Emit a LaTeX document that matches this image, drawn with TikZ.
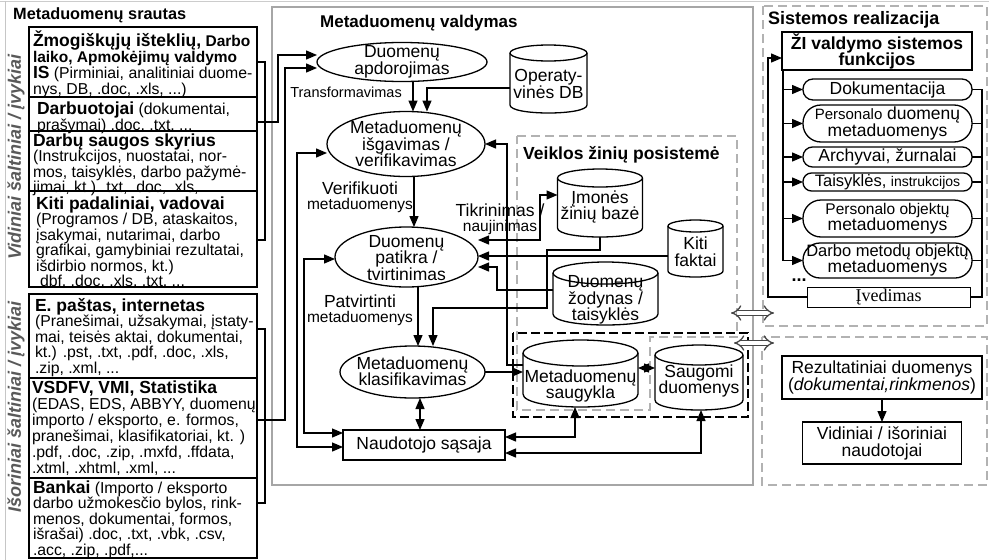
\documentclass[tikz,border=0pt]{standalone}
\usepackage{fontspec}
\setmainfont{Liberation Sans}
\newfontfamily\ivedfont{Liberation Serif}
\usetikzlibrary{arrows.meta,shapes.geometric,shapes.misc}
\newcommand{\hdb}{\fontsize{17.5}{17.5}\selectfont\bfseries}
\newcommand{\fsz}[1]{\fontsize{#1}{#1}\selectfont}
\newcommand{\firstl}{\rule{0pt}{18pt}}
\newcommand{\dbdraw}[5]{%
  \draw[cline,fill=white] ({#1-#3/2},{#2-#4/2+#5}) -- ({#1-#3/2},{#2+#4/2-#5})
    .. controls ({#1-#3/2},{#2+#4/2+#5/3}) and ({#1+#3/2},{#2+#4/2+#5/3}) .. ({#1+#3/2},{#2+#4/2-#5})
    -- ({#1+#3/2},{#2-#4/2+#5});
  \draw[cline,fill=white] (#1,{#2-#4/2+#5}) ellipse [x radius={#3/2}, y radius=#5];
}
\lineskiplimit=-100pt
\lineskip=0pt
\begin{document}
\lineskiplimit=-100pt
\lineskip=0pt
\begin{tikzpicture}[x=1pt,y=-1pt,
  cline/.style={line width=1.3pt},
  arr/.style={line width=1.3pt,-{Triangle[length=11pt,width=9pt]}},
  dbl/.style={line width=1.3pt,{Triangle[length=11pt,width=9pt]}-{Triangle[length=11pt,width=9pt]}},
  ell/.style={ellipse,draw,line width=1.3pt,fill=white,inner sep=0pt,outer sep=0pt},
  txt/.style={align=center,inner sep=0pt,font=\fontsize{17.5}{16.5}\selectfont},
  grp/.style={draw,line width=1.5pt,inner sep=0pt,outer sep=0pt},
  sec/.style={anchor=north west,align=left,inner sep=0pt,outer sep=0pt},
  dbn/.style={inner sep=0pt,outer sep=0pt},
  gdash/.style={draw=gray!60,line width=1.3pt,dash pattern=on 9pt off 5pt},
  rbox/.style={rectangle,draw,line width=1.3pt,fill=white,minimum width=169pt,inner sep=0pt,outer sep=0pt,align=center},
  sbox/.style={rectangle,draw,line width=1.3pt,fill=white,inner sep=0pt,outer sep=0pt,align=center},
  ttl/.style={anchor=base west,inner sep=0pt,font=\fontsize{17.5}{17.5}\selectfont\bfseries},
  hollow/.style={draw=gray!55!black,double=white,double distance=4pt,line width=1.3pt,{Implies[length=7pt,width=16pt]}-{Implies[length=7pt,width=16pt]}}
]
\useasboundingbox (0,0) rectangle (989,560);

% ---------- frames ----------
\draw[gray!40,line width=1pt] (0,1) -- (989,1);
\draw[gray!45,line width=1pt] (5,1) -- (5,562);
\draw[gray!70,line width=2.5pt] (272,7) rectangle (753,485);
\draw[gdash] (763,6) rectangle (987,326);
\draw[gdash] (762,337) rectangle (987,485);
\draw[gdash] (517,136) -- (737,136) -- (737,337) -- (650,337) -- (650,410) -- (517,410) -- cycle;
\draw[line width=1.5pt,dash pattern=on 9pt off 4pt] (513,333) rectangle (748,417);

% ---------- left panel ----------
\node[anchor=base west,inner sep=0pt,font=\fontsize{16.3}{16.3}\selectfont\bfseries] (ltitle) at (13,19) {Metaduomenų srautas};
\node[rotate=90,inner sep=0pt,text=black!65,font=\fontsize{18}{18}\selectfont\bfseries\itshape] (vidlab) at (16,157) {Vidiniai šaltiniai / įvykiai};
\node[rotate=90,inner sep=0pt,text=black!65,font=\fontsize{18}{18}\selectfont\bfseries\itshape] (isolab) at (16,407) {Išoriniai šaltiniai / įvykiai};

\node[grp,minimum width=228pt,minimum height=260pt] (vid) at (143,157) {};
\node[grp,minimum width=228pt,minimum height=264pt] (isor) at (143,426) {};
\coordinate (dv1) at (0,97); \coordinate (dv2) at (0,131); \coordinate (dv3) at (0,191);
\coordinate (dv4) at (0,378); \coordinate (dv5) at (0,478);
\foreach \d in {dv1,dv2,dv3} \draw[cline] (vid.west |- \d) -- (vid.east |- \d);
\foreach \d in {dv4,dv5} \draw[cline] (isor.west |- \d) -- (isor.east |- \d);

\node[sec,font=\fontsize{15.8}{16}\selectfont] (s1) at (33,28)
 {\firstl{\fontsize{17.5}{17.5}\selectfont\bfseries Žmogiškųjų išteklių,} {\fontsize{15.5}{15.5}\selectfont\bfseries Darbo}\\
  {\fontsize{15.5}{15.5}\selectfont\bfseries laiko, Apmokėjimų valdymo}\\
  {\hdb IS} (Pirminiai, analitiniai duome-\\
  nys, DB, .doc, .xls, ...)};
\node[sec,font=\fontsize{15.8}{16}\selectfont] (s2) at (37,96)
 {\firstl{\hdb Darbuotojai} (dokumentai,\\prašymai) .doc, .txt, ...};
\node[sec,font=\fontsize{15.8}{15.5}\selectfont] (s3) at (33,128)
 {\firstl{\hdb Darbų saugos skyrius}\\(Instrukcijos, nuostatai, nor-\\mos, taisyklės, darbo pažymė-\\jimai, kt.) .txt, .doc, .xls, ...};
\node[sec,font=\fontsize{15.8}{15.5}\selectfont] (s4) at (36,191)
 {\firstl{\hdb Kiti padaliniai, vadovai}\\(Programos / DB, ataskaitos,\\įsakymai, nutarimai, darbo\\grafikai, gamybiniai rezultatai,\\išdirbio normos, kt.)\\\hspace*{4pt}dbf, .doc, .xls, .txt, ...};
\node[sec,font=\fontsize{15.8}{15.5}\selectfont] (s5) at (35,293)
 {\firstl{\hdb E. paštas, internetas}\\(Pranešimai, užsakymai, įstaty-\\mai, teisės aktai, dokumentai,\\kt.) .pst, .txt, .pdf, .doc, .xls,\\.zip, .xml, ...};
\node[sec,font=\fontsize{15.8}{16}\selectfont] (s6) at (32,375)
 {\firstl{\hdb VSDFV, VMI, Statistika}\\(EDAS, EDS, ABBYY, duomenų\\importo / eksporto, e. formos,\\pranešimai, klasifikatoriai, kt. )\\.pdf, .doc, .zip, .mxfd, .ffdata,\\.xtml, .xhtml, .xml, ...};
\node[sec,font=\fontsize{15.8}{15.5}\selectfont] (s7) at (33,475)
 {\firstl{\hdb Bankai} (Importo / eksporto\\darbo užmokesčio bylos, rink-\\menos, dokumentai, formos,\\išrašai) .doc, .txt, .vbk, .csv,\\.acc, .zip, .pdf,...};

% ---------- central panel ----------
\node[anchor=base west,inner sep=0pt,font=\fontsize{17}{17}\selectfont\bfseries] (ctitle) at (320,27) {Metaduomenų valdymas};
\node[ttl] (vtitle) at (523,159) {Veiklos žinių posistemė};

\node[ell,minimum width=170pt,minimum height=39pt] (apdor) at (402,62) {};
\node[txt] (apdort) at (402,62) {Duomenų\\apdorojimas};
\node[ell,minimum width=158pt,minimum height=65pt] (isg) at (406,144) {};
\node[txt] (isgt) at (406,144) {Metaduomenų\\išgavimas /\\verifikavimas};
\node[ell,minimum width=143pt,minimum height=60pt] (patikra) at (406.5,257) {};
\node[txt] (patikrat) at (406.5,258) {Duomenų\\patikra /\\tvirtinimas};
\node[ell,minimum width=145pt,minimum height=52pt] (klas) at (412.5,372) {};
\node[txt] (klast) at (412.5,371) {Metaduomenų\\klasifikavimas};
\node[sbox,minimum width=162pt,minimum height=30pt,font=\fsz{17.5}] (naud) at (424,445) {Naudotojo sąsaja};

\dbdraw{548.5}{79}{77}{68}{8}
\node[dbn,minimum width=77pt,minimum height=68pt] (opdb) at (548.5,79) {};
\node[txt] (opdbt) at (548.5,84) {Operaty-\\vinės DB};
\dbdraw{600}{203}{85}{68}{9}
\node[dbn,minimum width=85pt,minimum height=68pt] (imone) at (600,203) {};
\node[txt] (imonet) at (600,207) {Įmonės\\žinių bazė};
\dbdraw{695.5}{248.5}{55}{57}{6}
\node[dbn,minimum width=55pt,minimum height=57pt] (kiti) at (695.5,248.5) {};
\node[txt] (kitit) at (695.5,251.5) {Kiti\\faktai};
\dbdraw{605.5}{293.5}{105}{63}{11}
\node[dbn,minimum width=105pt,minimum height=63pt] (zod) at (605.5,293.5) {};
\node[txt] (zodt) at (605.5,300) {Duomenų\\žodynas /\\taisyklės};
\dbdraw{580.5}{373.5}{115}{67}{13}
\node[dbn,minimum width=115pt,minimum height=67pt] (msaug) at (580.5,373.5) {};
\node[txt] (msaugt) at (580.5,386) {Metaduomenų\\saugykla};
\dbdraw{699}{377.5}{88}{65}{10}
\node[dbn,minimum width=88pt,minimum height=65pt] (saugomi) at (699,377.5) {};
\node[txt] (saugomit) at (699,381) {Saugomi\\duomenys};

% labels
\node[anchor=east,inner sep=0pt,font=\fsz{14.5}] (tflab) at (402,92) {Transformavimas};
\node[align=center,inner sep=0pt,font=\fontsize{17.5}{15}\selectfont] (verlab) at (360,197) {Verifikuoti\\{\fsz{15.5}metaduomenys}};
\node[align=center,inner sep=0pt,font=\fontsize{17.5}{15}\selectfont] (patlab) at (360,310) {Patvirtinti\\{\fsz{15.5}metaduomenys}};
\node[align=center,inner sep=0pt,font=\fontsize{17.5}{15}\selectfont] (tiklab) at (500,219) {Tikrinimas /\\{\fsz{15.5}naujinimas}};

% left brackets and inputs
\coordinate (bra) at (265,62); \coordinate (brb) at (265,240);
\coordinate (brm) at (278,122); \coordinate (brt) at (278,55);
\draw[cline] (vid.east |- bra) -- (bra) -- (brb) -- (vid.east |- brb);
\draw[arr] (vid.east |- brm) -- (brm) -- (brt) -- (brt -| apdor.west);
\coordinate (bxa) at (265,329); \coordinate (bxb) at (265,503);
\coordinate (bxm) at (285,420); \coordinate (bxt) at (285,68);
\draw[cline] (isor.east |- bxa) -- (bxa) -- (bxb) -- (isor.east |- bxb);
\draw[arr] (isor.east |- bxm) -- (bxm) -- (bxt) -- (bxt -| apdor.west);

% central connectors
\coordinate (tx) at (413,0);
\draw[arr] (apdor.south -| tx) -- (tx |- isg.north);
\coordinate (o1) at (427,88);
\draw[arr] (opdb.west |- o1) -- (o1) -- (o1 |- isg.north);
\coordinate (vx) at (414,0);
\draw[arr] (isg.south -| vx) -- (vx |- patikra.north);
\coordinate (vx2) at (418,0);
\draw[arr] (patikra.south -| vx2) -- (vx2 |- klas.north);
\coordinate (i1) at (600,250); \coordinate (i2) at (547,308); \coordinate (i3) at (433,308);
\draw[arr] (imone.south) -- (i1) -| (i2) -- (i3) -- (i3 |- klas.north);
\coordinate (tk) at (540,240); \coordinate (tk2) at (540,195);
\draw[dbl] (patikra.east |- tk) -- (tk) -- (tk2) -- (tk2 -| imone.west);
\coordinate (k1) at (600,256);
\draw[arr] (kiti.west |- k1) -- (patikra.east |- k1);
\coordinate (z1) at (497,290); \coordinate (z2) at (497,267);
\draw[arr] (zod.west |- z1) -- (z1) -- (z2) -- (patikra.east |- z2);
\coordinate (m1) at (507,365); \coordinate (m2) at (507,144);
\draw[arr] (msaug.west |- m1) -- (m1) -- (m2) -- (isg.east |- m2);
\draw[arr] (klas.east) -- (klas.east -| msaug.west);
\coordinate (vx3) at (420,0);
\draw[dbl] (klas.south -| vx3) -- (vx3 |- naud.north);
\coordinate (l1) at (297,153); \coordinate (l1b) at (297,447);
\draw[dbl] (isg.west |- l1) -- (l1) -- (l1b) -- (naud.west |- l1b);
\coordinate (l2) at (304,259); \coordinate (l2b) at (304,433);
\draw[dbl] (patikra.west |- l2) -- (l2) -- (l2b) -- (naud.west |- l2b);
\coordinate (n1) at (575,437);
\draw[dbl] (naud.east |- n1) -- (n1) -- (n1 |- msaug.south);
\coordinate (n2) at (701,453);
\draw[dbl] (naud.east |- n2) -- (n2) -- (n2 |- saugomi.south);
\coordinate (s1y) at (0,368);
\draw[dbl] (msaug.east |- s1y) -- (saugomi.west |- s1y);

% hollow arrows
\coordinate (h1a) at (731,313); \coordinate (h1b) at (774,313);
\coordinate (h2a) at (734,343); \coordinate (h2b) at (774,343);
\draw[hollow] (h1a) -- (h1b);
\draw[hollow] (h2a) -- (h2b);

% ---------- right panel ----------
\node[anchor=base west,inner sep=0pt,font=\fontsize{18}{18}\selectfont\bfseries] (stitle) at (768,24) {Sistemos realizacija};
\node[sbox,line width=2pt,minimum width=190pt,minimum height=38pt,font=\fontsize{17.5}{16}\selectfont\bfseries] (zi) at (877,51) {ŽI valdymo sistemos\\funkcijos};
\node[rbox,minimum height=21pt,rounded corners=10pt,font=\fsz{17.5}] (dok) at (887.5,89.5) {Dokumentacija};
\node[rbox,minimum height=37pt,rounded corners=18pt,font=\fontsize{17.5}{16.5}\selectfont] (pdm) at (887.5,123.5) {{\fsz{15}Personalo} duomenų\\metaduomenys};
\node[rbox,minimum height=20pt,rounded corners=9.5pt,font=\fsz{17.5}] (arch) at (887.5,157) {Archyvai, žurnalai};
\node[rbox,minimum height=18pt,rounded corners=8.5pt,font=\fsz{16.5}] (tais) at (887.5,182) {Taisyklės, {\fsz{14}instrukcijos}};
\node[rbox,minimum height=37pt,rounded corners=18pt,font=\fontsize{17.5}{16.5}\selectfont] (pom) at (887.5,218.5) {{\fsz{15.5}Personalo objektų}\\metaduomenys};
\node[rbox,minimum height=35pt,rounded corners=17pt,font=\fontsize{17.5}{16.5}\selectfont] (dmo) at (887.5,260.5) {{\fsz{16.5}Darbo metodų objektų}\\metaduomenys};
\node[inner sep=0pt,font=\fsz{18}\bfseries] (dots) at (799,280) {...};
\node[sbox,line width=1pt,minimum width=163pt,minimum height=20pt,font=\ivedfont\fsz{18}] (ived) at (888.5,297) {Įvedimas};

\coordinate (lt) at (783,70); \coordinate (lb) at (783,260.5);
\draw[cline] (lt) -- (lb);
\foreach \n in {dok,pdm,arch,tais,pom,dmo} \draw[arr] (lt |- \n) -- (\n);
\coordinate (rt) at (982,89.5); \coordinate (rb) at (982,297);
\draw[cline] (dok.east) -- (rt) -- (rb) -- (ived.east);
\foreach \n in {pdm,arch,tais,pom,dmo} \draw[cline] (\n.east) -- (\n.east -| rt);
\coordinate (ol) at (768,58);
\draw[arr] (ived.west) -| (ol) -- (ol -| zi.west);

\node[sbox,minimum width=200pt,minimum height=43pt,font=\fontsize{17.5}{17}\selectfont] (rez) at (882,377.5) {Rezultatiniai duomenys\\(\textit{dokumentai,rinkmenos})};
\node[sbox,minimum width=159pt,minimum height=42pt,font=\fontsize{17.5}{17}\selectfont] (vidn) at (882,443) {Vidiniai / išoriniai\\naudotojai};
\draw[arr] (rez.south) -- (vidn.north);
\end{tikzpicture}
\end{document}
